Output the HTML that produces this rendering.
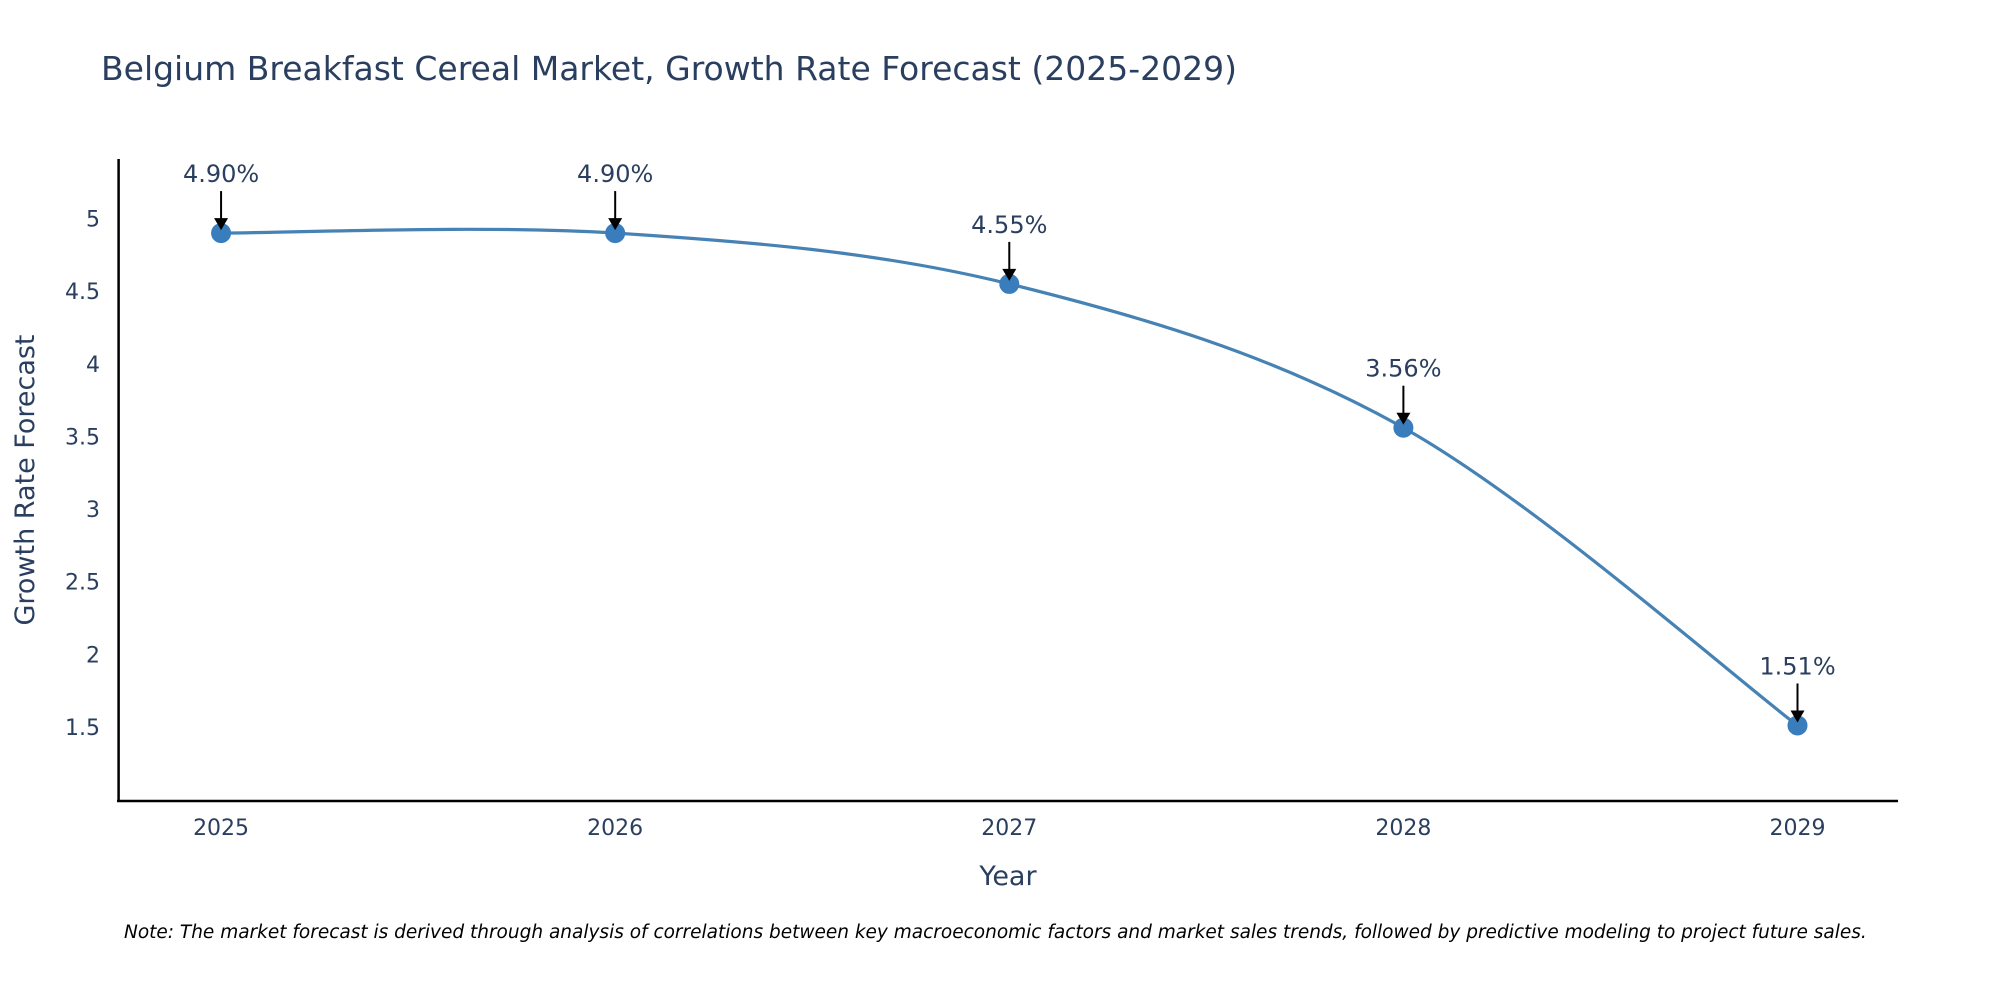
<!DOCTYPE html>
<html><head><meta charset="utf-8">
<style>
html,body{margin:0;padding:0;background:#fff;}
svg{display:block;font-family:"DejaVu Sans","Liberation Sans",sans-serif;}
</style></head>
<body>
<svg id="chart" width="2000" height="1000" viewBox="0 0 2000 1000">
<text x="101" y="80" font-size="33" fill="#2a3f5f">Belgium Breakfast Cereal Market, Growth Rate Forecast (2025-2029)</text>
<g id="yticks"></g>
<g id="xticks"></g>
<line x1="118.6" y1="159" x2="118.6" y2="802" stroke="#000" stroke-width="2.5"/>
<line x1="117" y1="801" x2="1898" y2="801" stroke="#000" stroke-width="2.5"/>
<path id="line" fill="none" stroke="#4682b4" stroke-width="3.2"/>
<g id="points"></g>
<g id="annots"></g>
<text x="1008" y="885" font-size="27" fill="#2a3f5f" text-anchor="middle">Year</text>
<text transform="translate(34,480) rotate(-90)" font-size="27" fill="#2a3f5f" text-anchor="middle">Growth Rate Forecast</text>
<text x="124" y="938" font-size="18.5" font-style="italic" fill="#000">Note: The market forecast is derived through analysis of correlations between key macroeconomic factors and market sales trends, followed by predictive modeling to project future sales.</text>
</svg>
<script>
const years = [2025, 2026, 2027, 2028, 2029];
const values = [4.90, 4.90, 4.55, 3.56, 1.51];
const valueLabels = ["4.90%", "4.90%", "4.55%", "3.56%", "1.51%"];
const yTickValues = [1.5, 2, 2.5, 3, 3.5, 4, 4.5, 5];
const yTickLabels = ["1.5", "2", "2.5", "3", "3.5", "4", "4.5", "5"];

const NS = "http://www.w3.org/2000/svg";
const X0 = 118.6, X1 = 1898, Y0 = 801, Y1 = 159;
const xMin = 2024.74, xMax = 2029.255, yMin = 0.99, yMax = 5.41;
const xs = v => X0 + (v - xMin) / (xMax - xMin) * (X1 - X0);
const ys = v => Y0 - (v - yMin) / (yMax - yMin) * (Y0 - Y1);
function mk(tag, attrs, parent) {
  const e = document.createElementNS(NS, tag);
  for (const k in attrs) e.setAttribute(k, attrs[k]);
  parent.appendChild(e);
  return e;
}
const yt = document.getElementById("yticks");
yTickValues.forEach((v, i) => {
  const t = mk("text", {x: 100, y: ys(v) + 8, "font-size": 22, fill: "#2a3f5f", "text-anchor": "end"}, yt);
  
  
  t.textContent = yTickLabels[i];
});
const xt = document.getElementById("xticks");
years.forEach(y => {
  const t = mk("text", {x: xs(y), y: 835, "font-size": 22, fill: "#2a3f5f", "text-anchor": "middle"}, xt);
  
  
  t.textContent = String(y);
});
const P = years.map((y, i) => [xs(y), ys(values[i])]);
let d = "M" + P[0][0] + "," + P[0][1];
const k = 0.5;
for (let i = 0; i < P.length - 1; i++) {
  const p0 = P[i - 1] || P[i], p1 = P[i], p2 = P[i + 1], p3 = P[i + 2] || P[i + 1];
  const c1 = [p1[0] + (p2[0] - p0[0]) * k / 3, p1[1] + (p2[1] - p0[1]) * k / 3];
  const c2 = [p2[0] - (p3[0] - p1[0]) * k / 3, p2[1] - (p3[1] - p1[1]) * k / 3];
  d += " C" + c1 + " " + c2 + " " + p2;
}
document.getElementById("line").setAttribute("d", d);
const pts = document.getElementById("points");
const an = document.getElementById("annots");
P.forEach((p, i) => {
  const c = mk("circle", {cx: p[0], cy: p[1], r: 9.5, fill: "#3a7dbd", stroke: "#3a7dbd"}, pts);
  
  
  const l = mk("line", {x1: p[0], y1: p[1] - 42, x2: p[0], y2: p[1] - 14, stroke: "#000", "stroke-width": 2}, an);
  
  
  const h = mk("polygon", {points: `${p[0]-7},${p[1]-15} ${p[0]+7},${p[1]-15} ${p[0]},${p[1]-3}`, fill: "#000"}, an);
  
  
  const t = mk("text", {x: p[0], y: p[1] - 51, "font-size": 24, fill: "#2a3f5f", "text-anchor": "middle"}, an);
  
  
  t.textContent = valueLabels[i];
});
</script>
</body></html>
